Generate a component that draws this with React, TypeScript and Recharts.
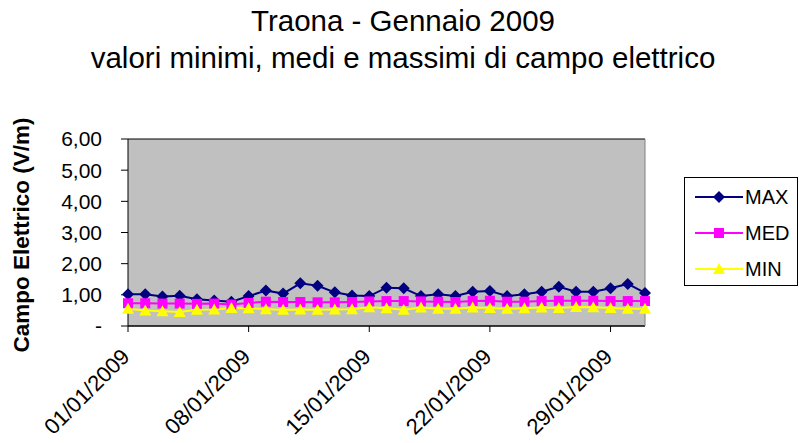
import { LineChart, Line, XAxis, YAxis, CartesianGrid } from 'recharts';

const days = Array.from({ length: 31 }, (_, i) => `${String(i + 1).padStart(2, '0')}/01/2009`);

const maxValues = [1.02, 1.02, 0.95, 0.97, 0.86, 0.82, 0.78, 0.96, 1.14, 1.04, 1.37, 1.29, 1.08, 0.98, 0.96,
    1.23, 1.21, 0.96, 1.02, 0.96, 1.10, 1.12, 0.96, 1.02, 1.10, 1.26, 1.10, 1.10, 1.21, 1.35, 1.06];
const medValues = [0.73, 0.73, 0.72, 0.72, 0.71, 0.72, 0.69, 0.74, 0.78, 0.77, 0.77, 0.76, 0.76, 0.77, 0.79,
    0.80, 0.80, 0.79, 0.78, 0.77, 0.80, 0.81, 0.78, 0.78, 0.80, 0.81, 0.81, 0.81, 0.80, 0.80, 0.80];
const minValues = [0.55, 0.50, 0.47, 0.45, 0.52, 0.53, 0.58, 0.57, 0.54, 0.52, 0.53, 0.52, 0.53, 0.54, 0.60,
    0.57, 0.52, 0.59, 0.55, 0.55, 0.59, 0.58, 0.55, 0.57, 0.59, 0.58, 0.61, 0.60, 0.58, 0.55, 0.55];
const yTicks = [0, 1, 2, 3, 4, 5, 6];

const data = days.map((day, i) => ({
    day,
    MAX: maxValues[i],
    MED: medValues[i],
    MIN: minValues[i],
}));

const FONT = '"Liberation Sans", Arial, sans-serif';

const Diamond = (props: any) => {
    const { cx, cy, fill } = props;
    if (cx == null || cy == null) return null;
    return <path d={`M${cx},${cy - 6} L${cx + 6},${cy} L${cx},${cy + 6} L${cx - 6},${cy} Z`} fill={fill} />;
};

const Square = (props: any) => {
    const { cx, cy, fill } = props;
    if (cx == null || cy == null) return null;
    return <rect x={cx - 5} y={cy - 5} width={10} height={10} fill={fill} />;
};

const Triangle = (props: any) => {
    const { cx, cy, fill } = props;
    if (cx == null || cy == null) return null;
    return <path d={`M${cx},${cy - 6} L${cx + 6},${cy + 5} L${cx - 6},${cy + 5} Z`} fill={fill} />;
};

const series = [
    { key: 'MAX', color: '#000080', Shape: Diamond },
    { key: 'MED', color: '#FF00FF', Shape: Square },
    { key: 'MIN', color: '#FFFF00', Shape: Triangle },
];

// date labels slanted like the excel export
const DateTick = (props: any) => {
    const { x, y, payload } = props;
    const ax = x + 3;
    const ay = y + 24;
    return (
        <text
            x={ax}
            y={ay}
            transform={`rotate(-45, ${ax}, ${ay})`}
            textAnchor="end"
            fontSize={22}
            fontFamily={FONT}
            fill="#000"
        >
            {payload.value}
        </text>
    );
};

const fmtY = (v: number) => (v === 0 ? '-' : v.toFixed(2).replace('.', ','));

const LegendBox = () => (
    <div
        style={{
            position: 'absolute',
            left: 684,
            top: 177,
            width: 112,
            height: 107,
            border: '1px solid #000',
            background: '#fff',
            fontFamily: FONT,
            fontSize: 20,
        }}
    >
        {series.map(({ key, color, Shape }, i) => (
            <div key={key} style={{ position: 'absolute', left: 0, top: 7 + i * 36, height: 24 }}>
                <svg width={60} height={24} style={{ position: 'absolute', left: 6, top: 0 }}>
                    <line x1={4} y1={12} x2={52} y2={12} stroke={color} strokeWidth={2} />
                    <Shape cx={28} cy={12} fill={color} />
                </svg>
                <span style={{ position: 'absolute', left: 60, top: 0, lineHeight: '24px' }}>{key}</span>
            </div>
        ))}
    </div>
);

export default function App() {
    return (
        <div style={{ position: 'absolute', left: 0, top: 0, width: 799, height: 443, background: '#fff', fontFamily: FONT }}>
            <div
                style={{
                    position: 'absolute',
                    left: 0,
                    top: 2,
                    width: 806,
                    textAlign: 'center',
                    fontSize: 29.5,
                    lineHeight: '37px',
                    color: '#000',
                }}
            >
                Traona - Gennaio 2009
                <br />
                valori minimi, medi e massimi di campo elettrico
            </div>
            <div
                style={{
                    position: 'absolute',
                    left: 22,
                    top: 235,
                    transform: 'translate(-50%, -50%) rotate(-90deg)',
                    whiteSpace: 'nowrap',
                    fontSize: 22.5,
                    fontWeight: 'bold',
                    color: '#000',
                }}
            >
                Campo Elettrico (V/m)
            </div>
            <LineChart
                width={799}
                height={443}
                data={data}
                margin={{ top: 139, right: 153, bottom: 0, left: 0 }}
            >
                <CartesianGrid horizontal vertical={false} stroke="#000" fill="#C0C0C0" />
                <XAxis
                    dataKey="day"
                    interval={6}
                    height={117}
                    tick={<DateTick />}
                    tickSize={6}
                    axisLine={{ stroke: '#000' }}
                    tickLine={{ stroke: '#000' }}
                />
                <YAxis
                    yAxisId="left"
                    width={128}
                    domain={[0, 6]}
                    ticks={yTicks}
                    interval={0}
                    tickFormatter={fmtY}
                    tickSize={7}
                    tickMargin={19}
                    axisLine={{ stroke: '#000' }}
                    tickLine={{ stroke: '#000' }}
                    tick={{ fill: '#000', fontSize: 21, fontFamily: FONT }}
                />
                <YAxis
                    yAxisId="right"
                    orientation="right"
                    width={1}
                    domain={[0, 6]}
                    tick={false}
                    tickLine={false}
                    axisLine={{ stroke: '#808080' }}
                />
                {series.map(({ key, color, Shape }) => (
                    <Line
                        key={key}
                        yAxisId="left"
                        type="linear"
                        dataKey={key}
                        stroke={color}
                        strokeWidth={2}
                        dot={<Shape fill={color} />}
                        activeDot={false}
                        isAnimationActive={false}
                    />
                ))}
            </LineChart>
            <LegendBox />
        </div>
    );
}
